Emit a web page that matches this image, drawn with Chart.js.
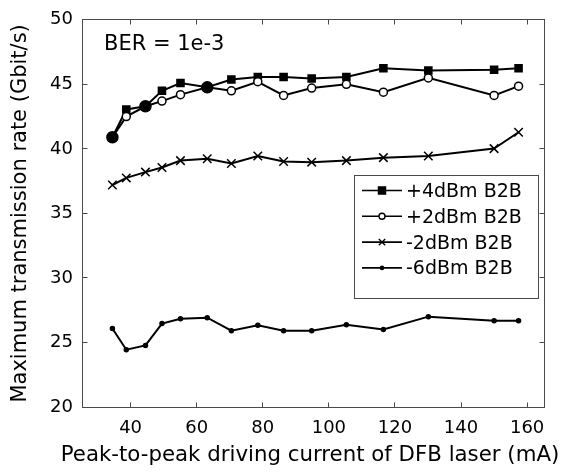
<!DOCTYPE html>
<html>
<head>
<meta charset="utf-8">
<script src="https://cdn.jsdelivr.net/npm/chart.js@4/dist/chart.umd.min.js"></script>
<style>
  html, body { margin: 0; padding: 0; background: #fff; }
  #wrap { width: 562px; height: 474px; }
</style>
</head>
<body>
<div id="wrap"><canvas id="c" width="562" height="474"></canvas></div>
<script>
// Peak-to-peak driving current of the DFB laser (mA)
const currents = [34.5, 38.7, 44.5, 49.5, 55.1, 63.2, 70.5, 78.5, 86.3, 94.8, 105.3, 116.5, 130.1, 150.0, 157.4];

// Maximum transmission rate at BER = 1e-3 (Gbit/s), one array per received power
const rateP4 = [40.9, 43.05, 43.3, 44.5, 45.1, 44.77, 45.37, 45.57, 45.57, 45.45, 45.57, 46.25, 46.07, 46.13, 46.25];
const rateP2 = [40.9, 42.5, 43.3, 43.7, 44.2, 44.77, 44.5, 45.2, 44.14, 44.71, 45.0, 44.39, 45.5, 44.14, 44.86];
const rateM2 = [37.2, 37.75, 38.2, 38.56, 39.09, 39.24, 38.87, 39.45, 39.02, 38.97, 39.09, 39.32, 39.45, 40.02, 41.29];
const rateM6 = [26.08, 24.44, 24.77, 26.46, 26.84, 26.92, 25.91, 26.33, 25.91, 25.91, 26.38, 26.0, 27.0, 26.69, 26.69];

const seriesLabels = ['+4dBm B2B', '+2dBm B2B', '-2dBm B2B', '-6dBm B2B'];
const xTickValues = [40, 60, 80, 100, 120, 140, 160];
const yTickValues = [20, 25, 30, 35, 40, 45, 50];
const berNote = 'BER = 1e-3';
const xTitle = 'Peak-to-peak driving current of DFB laser (mA)';
const yTitle = 'Maximum transmission rate (Gbit/s)';

const FONT = 'DejaVu Sans';
const INK = '#000';
const FRAME = '#4a4a4a';

const toPoints = ys => currents.map((x, i) => ({ x, y: ys[i] }));

// where +2dBm and +4dBm coincide, the markers merge into a solid disc
const merged = i => rateP2[i] === rateP4[i];

const seriesStyles = [
  { pointStyle: 'rect', pointRadius: 5, fill: INK, order: 1, legendRadius: 5 },
  { pointStyle: 'circle', pointRadius: (c) => merged(c.dataIndex) ? 5.5 : 4,
    fill: (c) => merged(c.dataIndex) ? INK : '#fff', order: 0, legendRadius: 3, legendFill: '#fff' },
  { pointStyle: 'crossRot', pointRadius: 6, fill: INK, order: 2, legendRadius: 4.5 },
  { pointStyle: 'circle', pointRadius: 2, fill: INK, order: 3, legendRadius: 1.6 }
];

const seriesData = [rateP4, rateP2, rateM2, rateM6];

const datasets = seriesData.map((ys, k) => {
  const s = seriesStyles[k];
  return {
    label: seriesLabels[k],
    data: toPoints(ys),
    borderColor: INK,
    borderWidth: 2,
    tension: 0,
    fill: false,
    order: s.order,
    pointStyle: s.pointStyle,
    pointRadius: s.pointRadius,
    pointBackgroundColor: s.fill,
    pointBorderColor: INK,
    pointBorderWidth: 1.5,
    pointHoverRadius: s.pointRadius
  };
});

// box with inward tick marks on all four sides, the x-axis title, the BER note and the legend
const framePlugin = {
  id: 'frame',
  afterDraw(chart) {
    const { ctx, chartArea: a, scales } = chart;
    const L = Math.floor(a.left) + 0.5, R = Math.floor(a.right) + 0.5;
    const T = Math.floor(a.top) + 0.5, B = Math.floor(a.bottom) + 0.5;
    const tl = 5;
    ctx.save();
    ctx.strokeStyle = FRAME;
    ctx.lineWidth = 1;
    ctx.strokeRect(L, T, R - L, B - T);
    ctx.beginPath();
    xTickValues.forEach(v => {
      const px = Math.floor(scales.x.getPixelForValue(v)) + 0.5;
      ctx.moveTo(px, B); ctx.lineTo(px, B - tl);
      ctx.moveTo(px, T); ctx.lineTo(px, T + tl);
    });
    yTickValues.forEach(v => {
      const py = Math.floor(scales.y.getPixelForValue(v)) + 0.5;
      ctx.moveTo(L, py); ctx.lineTo(L + tl, py);
      ctx.moveTo(R, py); ctx.lineTo(R - tl, py);
    });
    ctx.stroke();

    // x-axis title, wider than the plot box
    ctx.fillStyle = INK;
    ctx.textBaseline = 'alphabetic';
    ctx.textAlign = 'center';
    ctx.font = `21.3px "${FONT}"`;
    ctx.fillText(xTitle, 310, 461);

    // BER note
    ctx.textAlign = 'left';
    ctx.font = `21px "${FONT}"`;
    ctx.fillText(berNote, 104, 50);

    // legend
    const box = { x: 354.5, y: 175.5, w: 184, h: 123 };
    ctx.fillStyle = '#fff';
    ctx.fillRect(box.x, box.y, box.w, box.h);
    ctx.strokeStyle = FRAME;
    ctx.strokeRect(box.x, box.y, box.w, box.h);
    ctx.font = `19px "${FONT}"`;
    chart.data.datasets.forEach((ds, i) => {
      const s = seriesStyles[i];
      const yMid = 190.5 + i * 25.8;
      ctx.strokeStyle = INK;
      ctx.lineWidth = 1.6;
      ctx.beginPath();
      ctx.moveTo(362, yMid); ctx.lineTo(402, yMid);
      ctx.stroke();
      ctx.fillStyle = s.legendFill || INK;
      ctx.lineWidth = 1.4;
      Chart.helpers.drawPoint(ctx, {
        pointStyle: s.pointStyle, radius: s.legendRadius, rotation: 0, borderWidth: 1.4
      }, 382, yMid);
      ctx.fillStyle = INK;
      ctx.textBaseline = 'alphabetic';
      ctx.fillText(ds.label, 406, yMid + 6.5);
    });
    ctx.restore();
  }
};

new Chart(document.getElementById('c'), {
  type: 'line',
  data: { datasets },
  options: {
    responsive: false,
    animation: false,
    devicePixelRatio: 1,
    layout: { padding: { top: 10, right: 18, left: 0, bottom: 0 } },
    plugins: { legend: { display: false }, tooltip: { enabled: false } },
    scales: {
      x: {
        type: 'linear',
        min: 25.3,
        max: 165.1,
        grid: { display: false, drawTicks: false },
        border: { display: false },
        afterBuildTicks: (scale) => { scale.ticks = xTickValues.map(value => ({ value })); },
        afterFit: (scale) => { scale.height = 67; },
        ticks: {
          color: INK,
          padding: 11,
          maxRotation: 0,
          font: { family: FONT, size: 18 }
        },
        title: { display: false, text: xTitle }
      },
      y: {
        type: 'linear',
        min: 20,
        max: 50,
        grid: { display: false, drawTicks: false },
        border: { display: false },
        afterBuildTicks: (scale) => { scale.ticks = yTickValues.map(value => ({ value })); },
        afterFit: (scale) => { scale.width = 82; },
        ticks: {
          color: INK,
          padding: 9,
          font: { family: FONT, size: 18 }
        },
        title: {
          display: true,
          text: yTitle,
          color: INK,
          font: { family: FONT, size: 21 },
          padding: { top: 7.5, bottom: 0 }
        }
      }
    }
  },
  plugins: [framePlugin]
});
</script>
</body>
</html>
